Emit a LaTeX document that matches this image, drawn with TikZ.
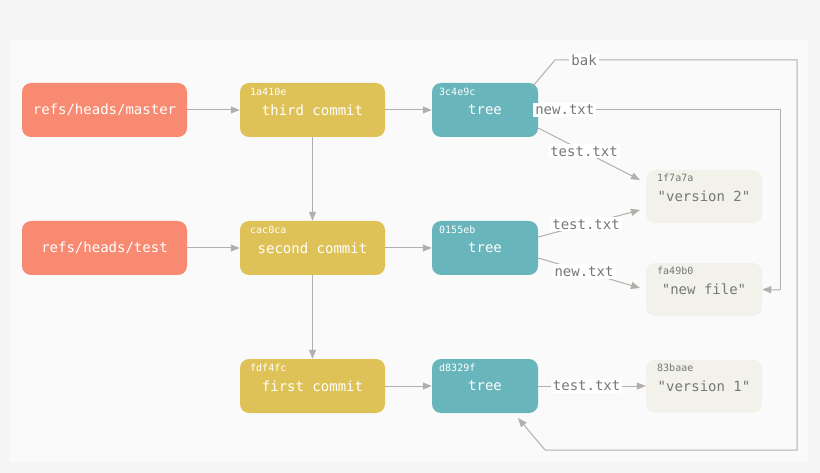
\documentclass[tikz,border=0pt]{standalone}
\usepackage{fontspec}
\setmonofont{DejaVu Sans Mono}
\usetikzlibrary{arrows.meta}
\definecolor{cref}{HTML}{F88A72}
\definecolor{ccom}{HTML}{DFC257}
\definecolor{ctree}{HTML}{68B5BB}
\definecolor{cblob}{HTML}{F2F2EB}
\definecolor{cline}{HTML}{B3B0AC}
\definecolor{ctxt}{HTML}{777777}
\begin{document}
\begin{tikzpicture}[x=1pt,y=-1pt,
  box/.style={rounded corners=9pt,minimum height=54pt,inner sep=0pt,font=\ttfamily\fontsize{14}{16}\selectfont,text=white},
  ref/.style={box,fill=cref,minimum width=165pt},
  com/.style={box,fill=ccom,minimum width=145pt},
  tree/.style={box,fill=ctree,minimum width=106pt},
  blob/.style={box,fill=cblob,minimum width=116pt,minimum height=53pt,text=ctxt},
  hash/.style={font=\ttfamily\fontsize{10}{12}\selectfont,text=white,anchor=north west,inner sep=0pt},
  bhash/.style={hash,text=ctxt},
  arr/.style={draw=cline,line width=1pt,-{Triangle[length=9pt,width=7pt]}},
  ln/.style={draw=cline,line width=1pt},
  lab/.style={fill=white,font=\ttfamily\fontsize{14}{16}\selectfont,text=ctxt,inner sep=2pt}]
\fill[black!4] (0,0) rectangle (820,473);
\fill[black!2] (10,40) rectangle (808,462);
\node[ref] (master) at (104.5,110) {refs/heads/master};
\node[ref] (test) at (104.5,248) {refs/heads/test};
\node[com] (c3) at (312.5,110) {\raisebox{-4pt}{third commit}};
\node[com] (c2) at (312.5,248) {\raisebox{-4pt}{second commit}};
\node[com] (c1) at (312.5,386) {\raisebox{-4pt}{first commit}};
\node[tree] (t3) at (485,110) {\raisebox{-4pt}{tree}};
\node[tree] (t2) at (485,248) {\raisebox{-4pt}{tree}};
\node[tree] (t1) at (485,386) {\raisebox{-4pt}{tree}};
\node[blob] (b2) at (704,196.5) {\raisebox{-7pt}{"version 2"}};
\node[blob] (bn) at (704,289.5) {\raisebox{-7pt}{"new file"}};
\node[blob] (b1) at (704,386) {\raisebox{-7pt}{"version 1"}};
\node[hash] at (250,88) {1a410e};
\node[hash] at (250,226) {cac0ca};
\node[hash] at (250,364) {fdf4fc};
\node[hash] at (439,88) {3c4e9c};
\node[hash] at (439,226) {0155eb};
\node[hash] at (439,364) {d8329f};
\node[bhash] at (657,174) {1f7a7a};
\node[bhash] at (657,267) {fa49b0};
\node[bhash] at (657,364) {83baae};
\draw[arr] (master) -- (c3);
\draw[arr] (test) -- (c2);
\draw[arr] (c3) -- (c2);
\draw[arr] (c2) -- (c1);
\draw[arr] (c3) -- (t3);
\draw[arr] (c2) -- (t2);
\draw[arr] (c1) -- (t1);
\coordinate (bk1) at (555,60);
\coordinate (bk2) at (797,60);
\coordinate (bk3) at (797,450);
\coordinate (bk4) at (545,450);
\coordinate (bk5) at (518,418);
\draw[ln] (t3.north east) ++(-5,3) -- (bk1) -- node[lab,pos=0.12]{bak} (bk2) -- (bk3) -- (bk4);
\draw[arr] (bk4) -- (bk5);
\coordinate (nt1) at (780,110);
\coordinate (nt2) at (780,290);
\draw[ln] (t3.east) -- node[lab,pos=0.11]{new.txt} (nt1) -- (nt2);
\draw[arr] (nt2) -- (bn.east);
\coordinate (e1) at (640,180);
\coordinate (e2) at (640,210);
\coordinate (e3) at (640,288);
\draw[arr] (t3.east) ++(0,18) -- node[lab,pos=0.45]{test.txt} (e1);
\draw[arr] (t2.east) ++(0,-11) -- node[lab,pos=0.47]{test.txt} (e2);
\draw[arr] (t2.east) ++(0,10) -- node[lab,pos=0.45]{new.txt} (e3);
\draw[arr] (t1.east) -- node[lab,pos=0.45]{test.txt} (b1.west);
\end{tikzpicture}
\end{document}
